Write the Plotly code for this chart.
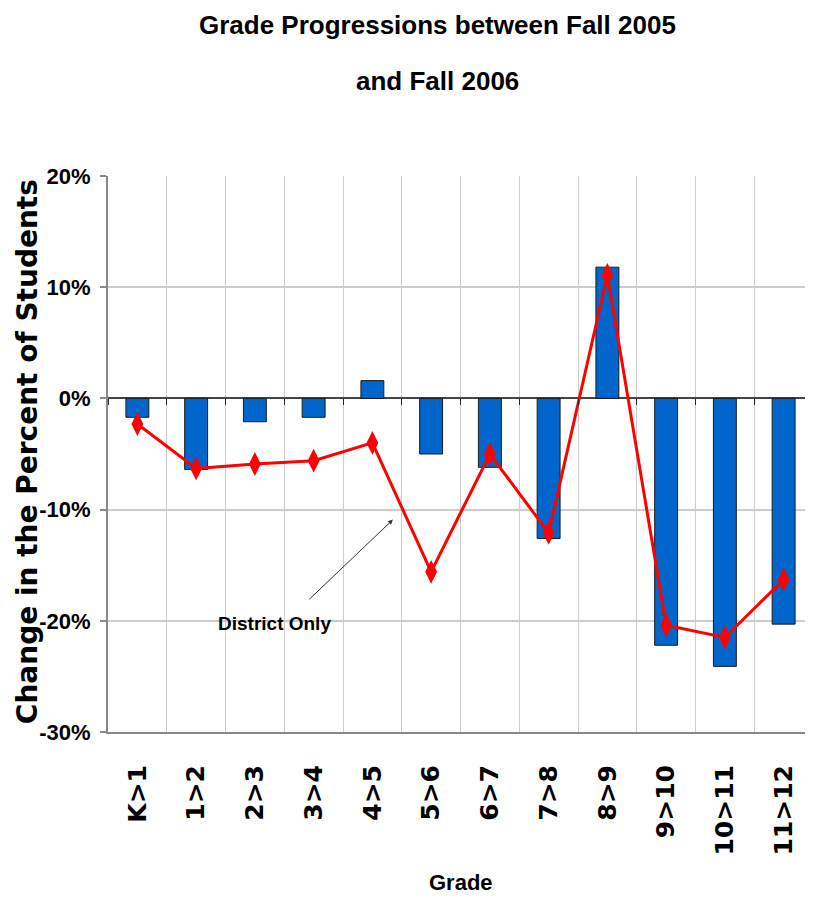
import plotly.graph_objects as go

# grade progression categories
grades = ["K>1", "1>2", "2>3", "3>4", "4>5", "5>6", "6>7", "7>8", "8>9", "9>10", "10>11", "11>12"]

# change in percent of students (bars)
change_all = [-1.7, -6.4, -2.1, -1.7, 1.6, -5.0, -6.2, -12.6, 11.8, -22.2, -24.1, -20.3]

# district only (red line)
change_district = [-2.3, -6.3, -5.9, -5.6, -4.0, -15.6, -5.0, -12.1, 11.1, -20.4, -21.5, -16.3]

# y axis ticks
y_ticks = [20, 10, 0, -10, -20, -30]
y_tick_text = ["20%", "10%", "0%", "-10%", "-20%", "-30%"]

NARROW = "Liberation Sans, Arial, sans-serif"
WIDE = "DejaVu Sans, Verdana, sans-serif"

fig = go.Figure()

fig.add_trace(go.Bar(
    x=grades, y=change_all,
    width=0.39,
    marker=dict(color="#0066CC", line=dict(color="#1a1a1a", width=1)),
    name="All",
))

fig.add_trace(go.Scatter(
    x=grades, y=change_district,
    mode="lines+markers",
    line=dict(color="#FF0000", width=3),
    marker=dict(symbol="diamond-tall", size=17, color="#FF0000"),
    name="District Only",
    xaxis="x2",
))

# the page has an 8px body margin, so the figure is 8px smaller than the window
fig.update_layout(
    width=805, height=889,
    margin=dict(l=100, r=0, t=168, b=165),
    paper_bgcolor="white",
    plot_bgcolor="white",
    showlegend=False,
    xaxis=dict(
        type="category",
        categoryorder="array", categoryarray=grades,
        tickson="boundaries",
        showgrid=True, gridcolor="#cccccc", gridwidth=1,
        showline=True, linecolor="#888888", linewidth=2,
        ticks="", ticklabelstandoff=21,
        tickangle=-90,
        tickfont=dict(family=WIDE, size=25, color="black", weight="bold"),
        range=[-0.5, 11.5],
    ),
    xaxis2=dict(
        type="category",
        categoryorder="array", categoryarray=grades,
        overlaying="x", anchor="free", position=0.6,
        matches="x",
        tickson="boundaries",
        ticks="outside", ticklen=6, tickcolor="#222222", tickwidth=1,
        showticklabels=False, showgrid=False, showline=False,
    ),
    yaxis=dict(
        range=[-30, 20],
        tickvals=y_ticks, ticktext=y_tick_text,
        showgrid=True, gridcolor="#cccccc", gridwidth=2,
        zeroline=True, zerolinecolor="#444444", zerolinewidth=2,
        showline=True, linecolor="#888888", linewidth=2,
        ticks="outside", ticklen=6, tickcolor="#888888", tickwidth=2,
        ticklabelstandoff=5,
        tickfont=dict(family=NARROW, size=22, color="black", weight="bold"),
    ),
    annotations=[
        dict(text="Grade Progressions between Fall 2005", xref="paper", yref="paper",
             x=0.4667, y=1.272, showarrow=False, xanchor="center", yanchor="middle",
             font=dict(family=NARROW, size=26, color="black", weight="bold")),
        dict(text="and Fall 2006", xref="paper", yref="paper",
             x=0.4667, y=1.171, showarrow=False, xanchor="center", yanchor="middle",
             font=dict(family=NARROW, size=26, color="black", weight="bold")),
        dict(text="Change in the Percent of Students", xref="paper", yref="paper",
             x=-0.115, y=0.505, showarrow=False, textangle=-90,
             xanchor="center", yanchor="middle",
             font=dict(family=WIDE, size=28, color="black", weight="bold")),
        dict(text="Grade", xref="paper", yref="paper",
             x=0.5, y=-0.2698, showarrow=False, xanchor="center", yanchor="middle",
             font=dict(family=NARROW, size=22, color="black", weight="bold")),
        dict(text="District Only", xref="x", yref="y",
             x=2.34, y=-20.2, showarrow=False, xanchor="center", yanchor="middle",
             font=dict(family=NARROW, size=19, color="black", weight="bold")),
        dict(text="", xref="x", yref="y", x=4.35, y=-10.9,
             axref="x", ayref="y", ax=2.9, ay=-18.2,
             showarrow=True, arrowhead=2, arrowsize=1, arrowwidth=1,
             arrowcolor="#333333"),
    ],
)

fig.write_html("out.html")
